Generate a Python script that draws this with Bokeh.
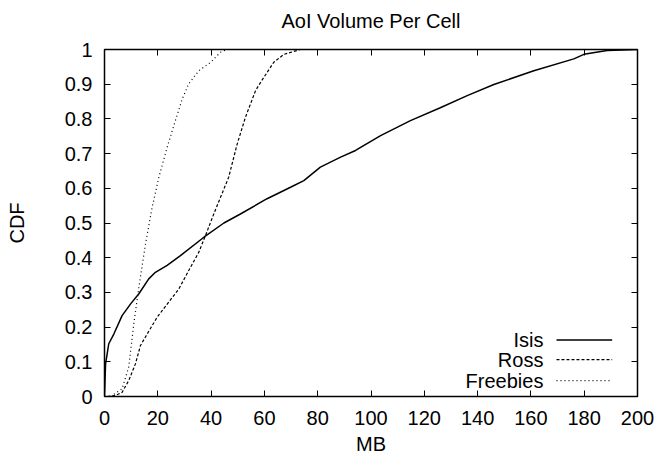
from bokeh.plotting import figure
from bokeh.models import FixedTicker, LinearAxis, Label, Arrow, Range1d
from bokeh.embed import file_html
from bokeh.resources import INLINE

# ---- data ----
title_text = "AoI Volume Per Cell"
x_label = "MB"
y_label = "CDF"
x_ticks = [0, 20, 40, 60, 80, 100, 120, 140, 160, 180, 200]
x_tick_labels = ["0", "20", "40", "60", "80", "100", "120", "140", "160", "180", "200"]
y_ticks = [0, 0.1, 0.2, 0.3, 0.4, 0.5, 0.6, 0.7, 0.8, 0.9, 1]
y_tick_labels = ["0", "0.1", "0.2", "0.3", "0.4", "0.5", "0.6", "0.7", "0.8", "0.9", "1"]
series_names = ["Isis", "Ross", "Freebies"]

isis_mb = [0, 0.4, 1.6, 3.5, 6.6, 9.8, 12.9, 16.6, 19.1, 23.5, 28.5, 37.3, 44.8,
           51, 61, 69.8, 74.8, 81, 88.6, 94.2, 103.6, 114.8, 126, 136.1, 146.1,
           161.1, 176.1, 179.9, 188.6, 200]
isis_cdf = [0, 0.094, 0.152, 0.18, 0.233, 0.267, 0.296, 0.339, 0.358, 0.378, 0.406,
            0.459, 0.50, 0.526, 0.57, 0.603, 0.622, 0.661, 0.69, 0.709, 0.752,
            0.795, 0.832, 0.867, 0.899, 0.939, 0.973, 0.986, 0.997, 1.0]

ross_mb = [1.0, 4.1, 6.6, 9.1, 11.6, 13.5, 16, 19.8, 24.1, 27.9, 31.6, 35.4, 37.9,
           41, 44.8, 46.6, 49.8, 52.9, 56.7, 59.8, 63.5, 67.3, 73.5]
ross_cdf = [0, 0.003, 0.012, 0.046, 0.094, 0.147, 0.18, 0.229, 0.272, 0.31, 0.363,
            0.416, 0.464, 0.526, 0.598, 0.632, 0.728, 0.805, 0.882, 0.92, 0.963,
            0.986, 1.0]

freebies_mb = [2.3, 6.6, 9.1, 11, 12.9, 15.4, 17.9, 20.4, 23.5, 26.6, 29.2, 31.6,
               35.4, 39.8, 43.5, 46]
freebies_cdf = [0, 0.022, 0.085, 0.21, 0.315, 0.44, 0.546, 0.632, 0.718, 0.795,
                0.858, 0.901, 0.939, 0.963, 0.992, 1.0]

FONT = "Liberation Sans"
FS = "20px"

p = figure(width=666, height=457, output_backend="svg", toolbar_location=None,
           x_range=Range1d(0, 200), y_range=Range1d(0, 1),
           min_border_left=104, min_border_right=29, min_border_top=49,
           min_border_bottom=61)
p.background_fill_color = "white"
p.border_fill_color = "white"
p.outline_line_color = "black"
p.outline_line_width = 1.5
p.grid.visible = False


def style_axis(ax, ticks, labels, show_labels=True):
    ax.ticker = FixedTicker(ticks=ticks)
    ax.axis_line_color = None
    ax.major_tick_in = 6
    ax.major_tick_out = 0
    ax.major_tick_line_color = "black"
    ax.major_tick_line_width = 1
    ax.minor_tick_line_color = None
    ax.major_label_text_font = FONT
    ax.major_label_text_color = "black"
    if show_labels:
        ax.major_label_overrides = dict(zip(ticks, labels))
        ax.major_label_text_font_size = FS
    else:
        ax.major_label_overrides = {t: "" for t in ticks}
        ax.major_label_text_font_size = "1px"
        ax.major_label_standoff = 0


xa = p.xaxis[0]
style_axis(xa, x_ticks, x_tick_labels)
xa.major_label_standoff = 14
xa.axis_label = x_label
xa.axis_label_text_font = FONT
xa.axis_label_text_font_size = FS
xa.axis_label_text_font_style = "normal"
xa.axis_label_text_color = "black"
xa.axis_label_standoff = 5

ya = p.yaxis[0]
style_axis(ya, y_ticks, y_tick_labels)
ya.major_label_standoff = 12
ya.axis_label = y_label
ya.axis_label_text_font = FONT
ya.axis_label_text_font_size = FS
ya.axis_label_text_font_style = "normal"
ya.axis_label_text_color = "black"
ya.axis_label_standoff = 34

# top border: mirrored ticks, and the chart title centred over the plot area
top_ax = LinearAxis()
style_axis(top_ax, x_ticks, x_tick_labels, show_labels=False)
top_ax.axis_label = title_text
top_ax.axis_label_text_font = FONT
top_ax.axis_label_text_font_size = FS
top_ax.axis_label_text_font_style = "normal"
top_ax.axis_label_text_color = "black"
top_ax.axis_label_standoff = 18
p.add_layout(top_ax, "above")

right_ax = LinearAxis()
style_axis(right_ax, y_ticks, y_tick_labels, show_labels=False)
p.add_layout(right_ax, "right")

p.line(isis_mb, isis_cdf, line_color="black", line_width=1.5)
p.line(ross_mb, ross_cdf, line_color="black", line_width=1.2, line_dash="3 2")
p.line(freebies_mb, freebies_cdf, line_color="black", line_width=1.2, line_dash="1 3")

# legend (gnuplot style: right-aligned text, then line sample)
leg_rows = [0.163, 0.106, 0.046]
leg_dash = ["solid", "3 2", "1 3"]
leg_w = [1.5, 1.2, 1.2]
for name, yy, dash, lw in zip(series_names, leg_rows, leg_dash, leg_w):
    p.add_layout(Label(x=164.7, y=yy, text=name, text_align="right",
                       text_baseline="middle", text_font=FONT,
                       text_font_size=FS, text_color="black"))
    p.add_layout(Arrow(x_start=169.6, y_start=yy, x_end=190.5, y_end=yy,
                       end=None, line_color="black", line_width=lw,
                       line_dash=dash))

open("out.html", "w").write(file_html(p, INLINE))
